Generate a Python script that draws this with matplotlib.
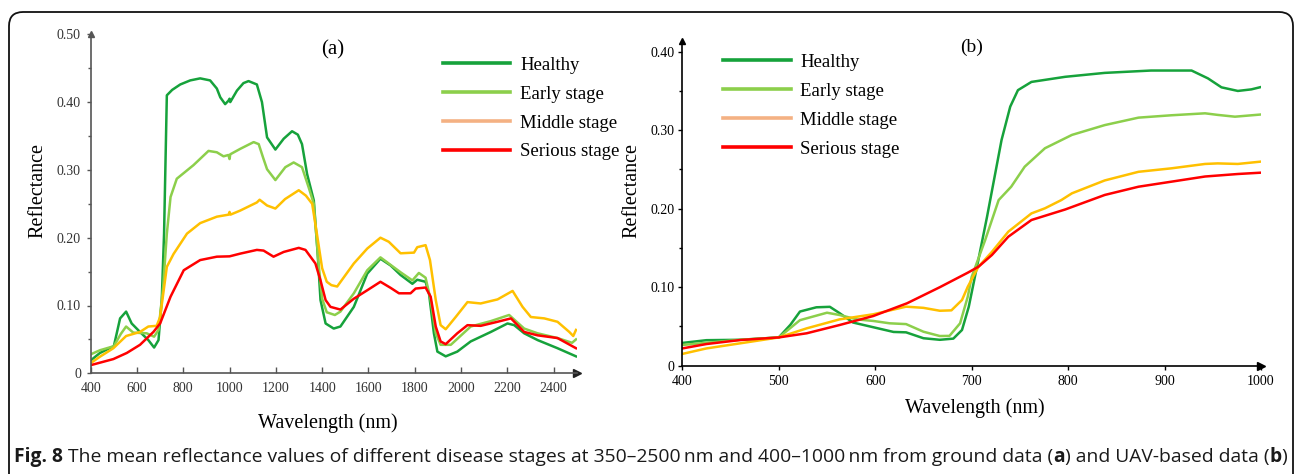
import numpy as np
import matplotlib
matplotlib.use('Agg')
import matplotlib.pyplot as plt
from matplotlib.lines import Line2D
from matplotlib.patches import FancyBboxPatch
from matplotlib.transforms import IdentityTransform
from matplotlib.ticker import MultipleLocator, FuncFormatter

# ---------------- dados (a): 400-2500 nm, dados de solo ----------------
wl_a_healthy = [400, 440, 500, 527, 553, 577, 613, 649, 674, 693, 707, 717, 729, 752, 787, 830, 873, 916, 945, 960,
                981, 995, 1000, 1003, 1032, 1060, 1082, 1118, 1140, 1162, 1198, 1234, 1270, 1295, 1313, 1335, 1364,
                1380, 1393, 1415, 1450, 1479, 1537, 1595, 1652, 1696, 1739, 1790, 1811, 1847, 1862, 1883, 1898, 1934,
                1984, 2042, 2129, 2201, 2230, 2273, 2331, 2417, 2497]
r_a_healthy = [0.019, 0.030, 0.040, 0.081, 0.091, 0.0735, 0.061, 0.049, 0.038, 0.049, 0.108, 0.206, 0.41, 0.418, 0.426,
               0.432, 0.435, 0.432, 0.42, 0.407, 0.397, 0.402, 0.405, 0.400, 0.417, 0.428, 0.431, 0.426, 0.400, 0.348,
               0.330, 0.346, 0.357, 0.352, 0.338, 0.294, 0.255, 0.18, 0.108, 0.0735, 0.066, 0.069, 0.098, 0.147, 0.169,
               0.159, 0.145, 0.132, 0.138, 0.135, 0.117, 0.059, 0.032, 0.025, 0.032, 0.047, 0.061, 0.0735, 0.071,
               0.059, 0.049, 0.037, 0.025]

wl_a_early = [400, 440, 500, 530, 553, 584, 642, 674, 693, 713, 729, 745, 772, 844, 909, 945, 974, 995, 1000, 1003,
              1046, 1104, 1126, 1145, 1162, 1198, 1241, 1277, 1313, 1342, 1364, 1385, 1400, 1420, 1455, 1479, 1537,
              1595, 1652, 1739, 1790, 1818, 1847, 1869, 1891, 1912, 1956, 2042, 2129, 2208, 2273, 2331, 2417, 2480,
              2497]
r_a_early = [0.028, 0.034, 0.040, 0.058, 0.069, 0.060, 0.059, 0.054, 0.064, 0.127, 0.206, 0.260, 0.287, 0.307, 0.328,
             0.326, 0.320, 0.322, 0.316, 0.323, 0.331, 0.341, 0.338, 0.318, 0.301, 0.285, 0.304, 0.311, 0.304, 0.274,
             0.25, 0.16, 0.11, 0.09, 0.086, 0.091, 0.118, 0.152, 0.171, 0.149, 0.137, 0.148, 0.141, 0.108, 0.059,
             0.042, 0.042, 0.069, 0.077, 0.086, 0.066, 0.059, 0.052, 0.045, 0.050]

wl_a_middle = [400, 440, 498, 553, 613, 649, 685, 700, 729, 758, 816, 873, 945, 996, 1000, 1004, 1046, 1118, 1130,
               1162, 1198, 1240, 1299, 1330, 1357, 1380, 1400, 1420, 1440, 1465, 1537, 1595, 1652, 1688, 1739, 1797,
               1811, 1847, 1866, 1891, 1912, 1934, 1977, 2028, 2085, 2158, 2223, 2266, 2302, 2360, 2417, 2468, 2485,
               2497]
r_a_middle = [0.015, 0.0245, 0.037, 0.055, 0.061, 0.069, 0.070, 0.083, 0.157, 0.176, 0.206, 0.2215, 0.231, 0.234,
              0.238, 0.234, 0.240, 0.252, 0.256, 0.2475, 0.243, 0.257, 0.270, 0.262, 0.250, 0.20, 0.155, 0.135, 0.130,
              0.128, 0.162, 0.184, 0.200, 0.194, 0.177, 0.178, 0.186, 0.189, 0.167, 0.108, 0.071, 0.065, 0.083, 0.105,
              0.103, 0.109, 0.1215, 0.098, 0.083, 0.081, 0.076, 0.061, 0.055, 0.064]

wl_a_serious = [400, 498, 556, 613, 671, 700, 745, 802, 873, 945, 1000, 1046, 1118, 1147, 1190, 1234, 1299, 1328,
                1371, 1393, 1415, 1436, 1479, 1537, 1595, 1652, 1696, 1732, 1782, 1804, 1847, 1869, 1891, 1912, 1934,
                1984, 2028, 2085, 2158, 2216, 2273, 2331, 2417, 2497]
r_a_serious = [0.012, 0.021, 0.030, 0.042, 0.061, 0.0735, 0.113, 0.152, 0.167, 0.172, 0.1725, 0.1765, 0.182, 0.181,
               0.172, 0.179, 0.185, 0.182, 0.162, 0.137, 0.108, 0.098, 0.094, 0.110, 0.1225, 0.135, 0.126, 0.118,
               0.118, 0.125, 0.1265, 0.113, 0.069, 0.047, 0.043, 0.059, 0.071, 0.070, 0.076, 0.081, 0.061, 0.056,
               0.052, 0.037]

# ---------------- dados (b): 400-1000 nm, dados do VANT ----------------
wl_b_healthy = [400, 425, 460, 500, 512, 522, 539, 553, 563, 577, 598, 619, 632, 650, 667, 681, 690, 697, 707, 716,
                731, 740, 748, 762, 797, 838, 886, 928, 945, 959, 976, 990, 1000]
r_b_healthy = [0.029, 0.0325, 0.033, 0.036, 0.052, 0.069, 0.0744, 0.075, 0.067, 0.055, 0.049, 0.043, 0.0425, 0.035,
               0.033, 0.0345, 0.0455, 0.075, 0.135, 0.19, 0.2875, 0.33, 0.351, 0.3615, 0.368, 0.373, 0.376, 0.376,
               0.366, 0.3546, 0.350, 0.352, 0.355]

wl_b_early = [400, 460, 500, 522, 550, 563, 581, 598, 615, 632, 650, 667, 677, 688, 696, 700, 714, 728, 741, 755, 776,
              804, 838, 873, 907, 942, 955, 973, 1000]
r_b_early = [0.0264, 0.033, 0.036, 0.058, 0.0675, 0.0646, 0.059, 0.057, 0.054, 0.053, 0.0433, 0.0378, 0.038, 0.054,
             0.088, 0.113, 0.16, 0.211, 0.228, 0.2535, 0.277, 0.294, 0.3065, 0.316, 0.319, 0.3215, 0.3195, 0.3172,
             0.320]

wl_b_middle = [400, 425, 460, 500, 529, 563, 598, 632, 650, 667, 679, 690, 696, 707, 721, 738, 762, 776, 793, 804, 838,
               873, 907, 942, 955, 976, 1000]
r_b_middle = [0.015, 0.022, 0.0285, 0.036, 0.0476, 0.059, 0.0655, 0.0752, 0.0737, 0.070, 0.0705, 0.0837, 0.1006,
              0.126, 0.145, 0.1707, 0.194, 0.2005, 0.211, 0.2196, 0.236, 0.247, 0.2514, 0.257, 0.2577, 0.257, 0.260]

wl_b_serious = [400, 425, 460, 500, 529, 563, 598, 633, 667, 696, 707, 721, 738, 762, 797, 838, 873, 907, 942, 976,
                1000]
r_b_serious = [0.022, 0.0276, 0.0327, 0.036, 0.0413, 0.0518, 0.0633, 0.0795, 0.100, 0.1185, 0.126, 0.141, 0.1643,
               0.1856, 0.199, 0.2175, 0.228, 0.2344, 0.241, 0.2442, 0.2459]

nomes = ['Healthy', 'Early stage', 'Middle stage', 'Serious stage']
cores = ['#16a23b', '#8ccf4b', '#ffc000', '#ff0000']
cores_legenda = ['#16a23b', '#8ccf4b', '#f4b183', '#ff0000']

W, H = 1295, 474
serif = 'Liberation Serif'

fig = plt.figure(figsize=(W / 100, H / 100), dpi=100)

# moldura arredondada
moldura = FancyBboxPatch((9, -30), 1284, 474 - 12 + 30, boxstyle='round,pad=0,rounding_size=14',
                         transform=IdentityTransform(), fill=False, ec='#111111', lw=1.3)
fig.patches.append(moldura)


def px_axes(x0, y0, x1, y1):
    """cria eixos a partir de pixels da imagem (y de cima para baixo)"""
    return fig.add_axes([x0 / W, 1 - y1 / H, (x1 - x0) / W, (y1 - y0) / H])


fmt = FuncFormatter(lambda v, p: '0' if abs(v) < 1e-9 else f'{v:.2f}')

# ---------------- painel (a) ----------------
ax = px_axes(90.7, 34.3, 576.7, 373.3)
c_ax = '#555555'
for wl, r, c in zip([wl_a_healthy, wl_a_early, wl_a_middle, wl_a_serious],
                    [r_a_healthy, r_a_early, r_a_middle, r_a_serious], cores):
    ax.plot(wl, r, color=c, lw=1.8, solid_joinstyle='round')
ax.set_xlim(400, 2500)
ax.set_ylim(0, 0.5)
ax.set_xticks(np.arange(400, 2401, 200))
ax.yaxis.set_major_locator(MultipleLocator(0.1))
ax.yaxis.set_minor_locator(MultipleLocator(0.05))
ax.yaxis.set_major_formatter(fmt)
for s in ['top', 'right']:
    ax.spines[s].set_visible(False)
for s in ['left', 'bottom']:
    ax.spines[s].set_color(c_ax)
    ax.spines[s].set_linewidth(1.2)
ax.tick_params(axis='x', direction='in', length=4, width=1, color=c_ax, labelcolor='#333333', pad=6.5)
ax.tick_params(axis='y', which='major', direction='out', length=3, width=1, color=c_ax, labelcolor='#333333', pad=4)
ax.tick_params(axis='y', which='minor', direction='out', length=2.5, width=1, color=c_ax)
for lb in ax.get_xticklabels() + ax.get_yticklabels():
    lb.set_fontfamily(serif)
    lb.set_fontsize(10)
ax.plot(1, 0, '>', transform=ax.transAxes, clip_on=False, color='#222222', ms=6)
ax.plot(0, 1, '^', transform=ax.transAxes, clip_on=False, color=c_ax, ms=5)
ax.set_xlabel('Wavelength (nm)', fontfamily=serif, fontsize=14.5)
ax.set_ylabel('Reflectance', fontfamily=serif, fontsize=14.5)
ax.xaxis.set_label_coords(0.487, -0.117)
ax.yaxis.set_label_coords(-0.09, 0.538)
ax.text(332.5 / W, 1 - 50 / H, '(a)', transform=fig.transFigure, ha='center', va='center',
        fontfamily=serif, fontsize=15)
hand = [Line2D([], [], color=c, lw=2.6) for c in cores_legenda]
ax.legend(hand, nomes, loc='upper left', bbox_to_anchor=(442.7 / W, 1 - 56.5 / H),
          bbox_transform=fig.transFigure, frameon=False, borderpad=0, borderaxespad=0,
          handlelength=3.59, handletextpad=0.55, labelspacing=0.63,
          prop={'family': serif, 'size': 13.5})

# ---------------- painel (b) ----------------
bx = px_axes(682.3, 40.7, 1261, 365.7)
for wl, r, c in zip([wl_b_healthy, wl_b_early, wl_b_middle, wl_b_serious],
                    [r_b_healthy, r_b_early, r_b_middle, r_b_serious], cores):
    bx.plot(wl, r, color=c, lw=1.8, solid_joinstyle='round')
bx.set_xlim(400, 1000)
bx.set_ylim(0, 0.414)
bx.set_xticks(np.arange(400, 1001, 100))
bx.set_yticks(np.arange(0, 0.41, 0.1))
bx.yaxis.set_minor_locator(MultipleLocator(0.05))
bx.yaxis.set_major_formatter(fmt)
for s in ['top', 'right']:
    bx.spines[s].set_visible(False)
for s in ['left', 'bottom']:
    bx.spines[s].set_color('black')
    bx.spines[s].set_linewidth(1.2)
bx.tick_params(axis='x', direction='out', length=3, width=1, pad=3.5)
bx.tick_params(axis='y', which='major', direction='out', length=3, width=1, pad=2.4)
bx.tick_params(axis='y', which='minor', direction='out', length=2.5, width=1)
for lb in bx.get_xticklabels() + bx.get_yticklabels():
    lb.set_fontfamily(serif)
    lb.set_fontsize(10)
bx.plot(1, 0, '>', transform=bx.transAxes, clip_on=False, color='black', ms=6)
bx.plot(0, 1, '^', transform=bx.transAxes, clip_on=False, color='black', ms=5)
bx.set_xlabel('Wavelength (nm)', fontfamily=serif, fontsize=14.5)
bx.set_ylabel('Reflectance', fontfamily=serif, fontsize=14.5)
bx.xaxis.set_label_coords(0.506, -0.0994)
bx.yaxis.set_label_coords(-0.0714, 0.5406)
bx.text(972 / W, 1 - 47.5 / H, '(b)', transform=fig.transFigure, ha='center', va='center',
        fontfamily=serif, fontsize=14)
hand = [Line2D([], [], color=c, lw=2.6) for c in cores_legenda]
bx.legend(hand, nomes, loc='upper left', bbox_to_anchor=(722.7 / W, 1 - 53.5 / H),
          bbox_transform=fig.transFigure, frameon=False, borderpad=0, borderaxespad=0,
          handlelength=3.63, handletextpad=0.5, labelspacing=0.64,
          prop={'family': serif, 'size': 13.5})

# ---------------- legenda da figura (texto com partes em negrito) ----------------
partes = [('Fig. 8', 'bold'),
          (' The mean reflectance values of different disease stages at 350\u20132500\u2009nm and 400\u20131000\u2009nm'
           ' from ground data (', 'normal'),
          ('a', 'bold'), (') and UAV-based data (', 'normal'), ('b', 'bold'), (')', 'normal')]
fam_cap = ['Open Sans', 'DejaVu Sans']
x_ini, x_fim, y_cap = 14.5, 1284, 457


def escreve(tam):
    rend = fig.canvas.get_renderer()
    x = x_ini
    objs = []
    for txt, peso in partes:
        t = fig.text(x / W, 1 - y_cap / H, txt, fontsize=tam, fontweight=peso, fontfamily=fam_cap,
                     va='center', ha='left', color='#1a1a1a')
        objs.append(t)
        x += t.get_window_extent(rend).width
    return objs, x


objs, xf = escreve(12)
largura = xf - x_ini
for t in objs:
    t.remove()
escreve(12 * (x_fim - x_ini) / largura)

fig.savefig('out.png', dpi=100)
